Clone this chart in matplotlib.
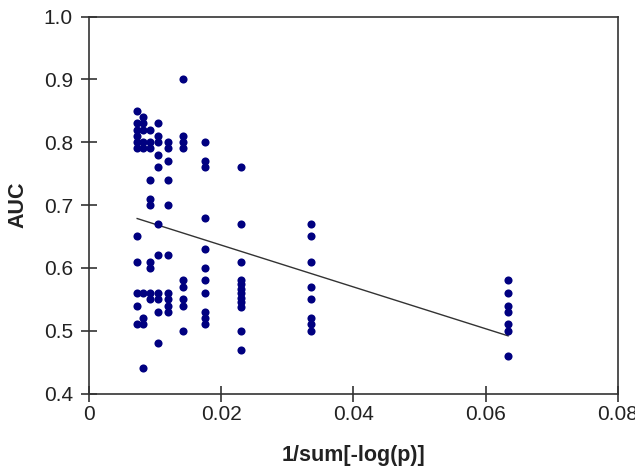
import numpy as np
import matplotlib
matplotlib.use("Agg")
import matplotlib.pyplot as plt

plt.rcParams["font.family"] = ["Liberation Sans", "DejaVu Sans"]

# x position of each column of points (1/sum[-log(p)])
col_x = [0.0073, 0.0082, 0.0092, 0.0104, 0.0119, 0.0143, 0.0175, 0.0230, 0.0336, 0.0634]

# AUC values in each column
col_auc = [
    [0.85, 0.83, 0.82, 0.81, 0.80, 0.79, 0.65, 0.61, 0.56, 0.54, 0.51],
    [0.84, 0.83, 0.82, 0.80, 0.79, 0.56, 0.52, 0.51, 0.44],
    [0.82, 0.80, 0.79, 0.74, 0.71, 0.70, 0.61, 0.60, 0.56, 0.55],
    [0.83, 0.81, 0.80, 0.78, 0.76, 0.67, 0.62, 0.56, 0.55, 0.53, 0.48],
    [0.80, 0.79, 0.77, 0.74, 0.70, 0.62, 0.56, 0.55, 0.54, 0.53],
    [0.90, 0.81, 0.80, 0.79, 0.58, 0.57, 0.55, 0.54, 0.50],
    [0.80, 0.77, 0.76, 0.68, 0.63, 0.60, 0.58, 0.56, 0.53, 0.52, 0.51],
    [0.76, 0.67, 0.61, 0.58, 0.575, 0.567, 0.56, 0.552, 0.545, 0.538, 0.50, 0.47],
    [0.67, 0.65, 0.61, 0.57, 0.55, 0.52, 0.51, 0.50],
    [0.58, 0.56, 0.54, 0.53, 0.51, 0.50, 0.46],
]

x = []
y = []
for cx, vals in zip(col_x, col_auc):
    for v in vals:
        x.append(cx)
        y.append(v)
x = np.array(x)
y = np.array(y)

fig = plt.figure(figsize=(6.35, 4.72), dpi=100)
ax = fig.add_axes([0.140, 0.1663, 0.833, 0.7987])

ax.scatter(x, y, s=34, color="#000080", zorder=3, linewidths=0)

# linear trend line
slope, icpt = np.polyfit(x, y, 1)
xl = np.array([x.min(), x.max()])
ax.plot(xl, slope * xl + icpt, color="#333333", lw=1.0, zorder=2)

ax.set_xlim(0, 0.08)
ax.set_ylim(0.4, 1.0)
ax.set_xticks([0, 0.02, 0.04, 0.06, 0.08])
ax.set_xticklabels(["0", "0.02", "0.04", "0.06", "0.08"])
ax.set_yticks([0.4, 0.5, 0.6, 0.7, 0.8, 0.9, 1.0])
ax.set_yticklabels(["0.4", "0.5", "0.6", "0.7", "0.8", "0.9", "1.0"])

for s in ax.spines.values():
    s.set_color("#333333")
    s.set_linewidth(1.2)
ax.tick_params(direction="inout", length=11, width=1.2, color="#333333",
               labelsize=15, labelcolor="#222222")
ax.tick_params(axis="y", pad=6)
ax.tick_params(axis="x", pad=3)

ax.set_xlabel("1/sum[-log(p)]", fontsize=15.5, fontweight="bold", color="#222222", labelpad=15)
ax.set_ylabel("AUC", fontsize=15.5, fontweight="bold", color="#222222", labelpad=11)

fig.savefig("out.png", dpi=100)
